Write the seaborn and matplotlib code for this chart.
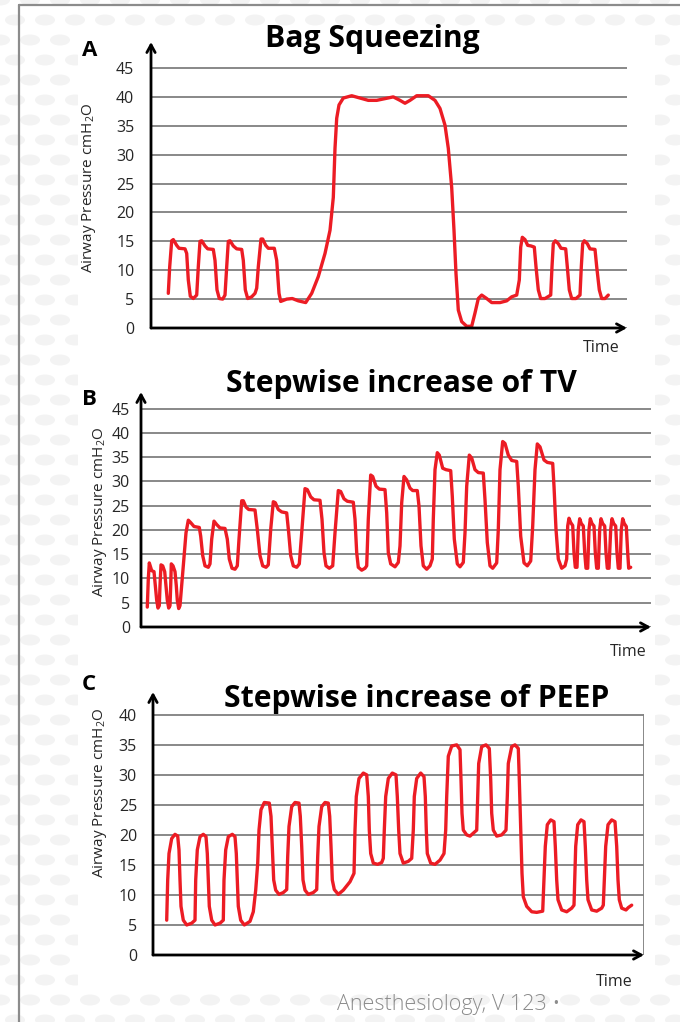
import numpy as np
import pandas as pd
import seaborn as sns
import matplotlib.pyplot as plt
from matplotlib.collections import EllipseCollection
from matplotlib.patches import Rectangle

# Panel A - bag squeezing (time in arbitrary units, airway pressure in cmH2O)
bag_time = [17.3, 18.7, 20.7, 22.3, 25.7, 28.0, 34.0, 35.7, 37.3, 39.3, 42.3, 45.7,
            47.3, 49.0, 50.7, 54.0, 56.7, 62.3, 64.0, 66.0, 68.3, 71.7, 74.0,
            75.7, 77.3, 79.0, 82.3, 85.7, 90.7, 92.3, 94.3, 96.7, 100.7, 104.0, 105.7,
            107.3, 110.0, 111.7, 114.7, 117.3, 123.3, 125.7, 128.0, 129.7, 135.7,
            141.3, 147.3, 154.7, 160.7, 167.3, 174.0, 179.0, 182.3, 184.0, 185.7,
            188.0, 192.3, 200.7, 209.0, 217.3, 225.7, 234.0, 242.3, 249.0, 254.0,
            259.0, 265.7, 277.3, 284.0, 289.0, 294.0, 297.3, 300.7, 303.0, 305.0,
            307.3, 310.7, 315.7, 320.7, 324.0, 327.3, 330.7, 335.7, 340.7, 349.0,
            355.7, 360.7, 365.7, 368.3, 369.7, 371.3, 374.0, 376.7, 380.0, 383.3,
            385.0, 387.3, 389.7, 394.0, 399.7, 401.0, 402.3, 404.3, 407.3, 410.0,
            414.7, 416.3, 418.3, 420.7, 425.0, 429.0, 430.3, 431.7, 433.3, 436.3,
            439.0, 444.0, 445.7, 448.3, 450.7, 454.0, 457.3]
bag_pressure = [6.0, 10.6, 15.1, 15.3, 14.3, 13.8, 13.7, 12.9, 8.3, 5.5, 5.1, 5.7,
                10.6, 15.0, 15.1, 14.2, 13.7, 13.6, 11.7, 6.6, 5.1, 5.0, 5.7,
                10.6, 15.0, 15.1, 14.2, 13.7, 13.6, 11.7, 6.6, 5.1, 5.4, 6.0, 6.9,
                10.6, 15.4, 15.4, 14.3, 13.8, 13.8, 11.7, 6.0, 4.6, 5.0,
                5.1, 4.7, 4.4, 6.0, 8.9, 12.9, 16.9, 22.6, 31.1, 36.3,
                38.6, 39.8, 40.2, 39.8, 39.4, 39.4, 39.7, 40.0, 39.4, 38.9,
                39.4, 40.2, 40.2, 39.4, 38.0, 35.1, 31.1, 24.3, 16.9, 9.4,
                3.1, 1.1, 0.3, 0.3, 2.6, 5.1, 5.7, 5.1, 4.4, 4.4,
                4.7, 5.4, 5.7, 8.3, 14.0, 15.7, 15.3, 14.3, 14.2, 14.0,
                10.6, 6.6, 5.1, 5.1, 5.7, 10.6, 14.6, 15.1, 14.6, 13.8,
                13.7, 10.6, 6.6, 5.1, 5.1, 5.7, 10.6, 14.6, 15.1, 14.6,
                13.7, 13.6, 10.6, 6.6, 5.1, 5.1, 5.7]

# Panel B - stepwise increase of tidal volume
tv_time = [6.3, 7.3, 8.3, 10.7, 13.0, 14.3, 15.7, 17.0, 18.3, 19.0, 20.0, 21.7, 23.7,
           25.0, 26.3, 27.7, 29.0, 29.7, 30.3, 32.0, 34.0, 35.3, 36.3, 37.7, 39.0,
           40.7, 42.3, 45.0, 47.3, 49.7, 53.0, 58.3, 59.7, 61.7, 64.0, 67.3, 69.0,
           70.7, 73.0, 75.7, 79.0, 84.0, 86.3, 88.3, 91.0, 94.0, 96.3, 98.0, 100.7,
           102.3, 105.0, 107.7, 114.0, 116.3, 119.0, 121.7, 125.0, 127.3, 129.7,
           132.3, 134.3, 137.3, 140.7, 145.7, 147.7, 149.7, 152.3, 155.7, 158.3,
           160.7, 164.0, 166.3, 169.7, 173.0, 179.0, 181.0, 183.0, 185.0, 188.3,
           191.7, 194.0, 197.3, 199.7, 203.0, 206.3, 212.3, 214.0, 215.7, 217.3,
           220.7, 224.0, 225.7, 227.3, 229.7, 231.7, 235.0, 238.3, 244.0, 245.7,
           247.3, 249.7, 254.0, 257.3, 259.0, 260.7, 263.0, 265.7, 269.0, 271.7,
           276.3, 278.0, 280.0, 282.3, 285.7, 289.0, 291.3, 292.3, 294.0, 296.3,
           298.3, 301.7, 305.0, 309.7, 311.3, 313.3, 316.3, 319.0, 322.3, 324.0,
           325.7, 328.3, 330.7, 334.0, 337.3, 342.3, 344.0, 346.3, 349.0, 351.7,
           355.7, 357.3, 359.0, 361.7, 364.0, 367.3, 370.7, 375.7, 377.3, 379.7,
           383.0, 386.3, 389.7, 391.7, 394.0, 396.3, 399.0, 403.0, 406.3, 411.7,
           413.0, 415.0, 417.3, 420.7, 424.0, 425.7,
           426.7, 428.0, 429.7, 431.7, 433.0, 434.3, 436.0,
           437.3, 438.7, 440.3, 442.3, 443.7, 445.0, 446.7,
           448.0, 449.3, 451.0, 453.0, 454.3, 455.7, 457.3,
           458.7, 460.0, 461.7, 463.7, 465.0, 466.3, 468.0,
           469.7, 471.0, 472.7, 474.7, 476.0, 477.3, 479.0,
           480.3, 481.7, 483.3, 485.3, 486.7, 487.7, 489.7]
tv_pressure = [4.1, 9.9, 13.2, 11.6, 11.4, 8.5, 5.5, 3.9, 4.4, 8.5, 12.8, 12.6, 11.4,
               8.5, 5.5, 3.9, 4.4, 8.5, 13.0, 12.6, 11.4, 8.5, 5.5, 3.8, 4.4,
               8.5, 12.6, 19.4, 22.0, 21.5, 20.7, 20.5, 18.7, 14.7, 12.6, 12.3, 13.0,
               18.1, 21.8, 21.1, 20.4, 20.3, 18.1, 14.0, 12.1, 11.9, 12.6, 18.1, 26.0,
               26.0, 24.7, 24.2, 24.1, 20.1, 14.7, 12.6, 12.3, 12.8, 20.1,
               25.8, 25.6, 24.2, 23.7, 23.5, 19.4, 14.7, 12.6, 12.3, 13.0,
               19.4, 28.5, 28.3, 26.8, 26.2, 26.1, 22.2, 15.3, 12.6, 12.1,
               12.6, 19.4, 28.1, 27.9, 26.4, 25.9, 25.7, 22.2, 15.3, 12.3,
               11.7, 12.1, 12.6, 22.2, 31.3, 31.0, 29.0, 28.4, 28.3, 23.5,
               15.3, 13.0, 12.4, 13.3, 16.7, 25.6, 31.0, 30.3, 28.6, 28.1,
               28.1, 24.9, 16.7, 12.6, 11.9, 12.6, 14.0, 22.2, 32.4, 35.9,
               35.4, 32.7, 32.4, 32.2, 26.9, 18.1, 13.0, 12.4, 13.3, 19.4,
               29.0, 35.4, 34.8, 32.4, 31.8, 31.7, 26.2, 17.4, 12.6, 12.1,
               13.2, 20.1, 32.4, 38.2, 37.8, 35.4, 34.3, 34.1, 29.0, 18.7,
               13.2, 12.6, 13.6, 20.8, 32.4, 37.7, 37.1, 34.4, 33.9, 33.7,
               29.0, 20.1, 14.0, 12.1, 12.6, 14.0,
               20.8, 22.4, 21.5, 20.9, 15.3, 12.3, 12.3,
               20.1, 22.3, 21.3, 20.8, 15.3, 12.1, 12.1,
               20.1, 22.3, 21.3, 20.8, 15.3, 12.1, 12.1,
               20.1, 22.3, 21.3, 20.8, 15.3, 12.1, 12.1,
               20.1, 22.3, 21.3, 20.8, 15.3, 12.1, 12.1,
               20.1, 22.3, 21.3, 20.7, 15.3, 12.1, 12.3]

# Panel C - stepwise increase of PEEP
peep_time = [13.7, 14.7, 16.0, 18.7, 22.0, 24.7, 26.0, 27.0, 28.0, 30.3, 33.7, 38.7,
             42.0, 42.7, 44.3, 47.0, 50.3, 53.0, 54.3, 55.3, 56.3, 58.7, 62.0, 67.0,
             70.3, 71.0, 72.7, 75.3, 79.3, 82.0, 83.3, 84.3, 85.3, 87.7, 91.3, 97.0,
             100.3, 102.7, 104.7, 106.0, 108.0, 111.3, 116.3, 118.0, 119.3, 120.7,
             122.7, 126.0, 130.3, 133.7, 134.7, 136.0, 138.7, 142.0, 146.0, 147.3,
             148.7, 150.0, 152.0, 155.3, 160.3, 163.7, 164.7, 166.0, 168.7, 172.0,
             175.3, 176.7, 178.0, 179.3, 181.3, 185.3, 190.3, 197.0, 201.0, 202.0,
             203.3, 206.0, 210.3, 213.7, 215.3, 216.3, 217.7, 220.3, 224.7, 228.7,
             230.3, 231.3, 232.7, 235.3, 239.3, 243.0, 244.3, 245.7, 247.0, 250.3,
             255.3, 258.7, 260.3, 261.3, 263.7, 267.7, 271.0, 272.3, 273.3, 274.3,
             277.7, 282.0, 287.0, 291.0, 292.7, 293.7, 295.3, 298.7, 303.7, 307.0,
             308.0, 309.0, 310.3, 313.7, 317.0, 320.3, 323.7, 324.7, 325.7, 328.7,
             333.0, 336.3, 337.7, 338.7, 340.3, 343.7, 348.7, 353.0, 354.3, 355.3,
             358.7, 362.0, 365.3, 366.3, 367.7, 369.0, 370.3, 373.7, 378.7, 383.7,
             389.7, 391.0, 392.3, 394.3, 397.7, 401.0, 402.3, 403.7, 405.0, 408.7,
             413.7, 418.7, 421.0, 421.7, 422.7, 424.7, 428.0, 431.0, 432.3, 433.7,
             435.0, 438.7, 443.7, 448.7, 450.3, 451.3, 452.7, 455.0, 458.7, 462.0,
             463.7, 465.0, 466.3, 468.7, 473.0, 475.3, 478.7]
peep_pressure = [5.8, 12.5, 16.9, 19.4, 20.1, 19.8, 17.5, 12.5, 8.1, 5.8, 5.0, 5.3,
                 5.8, 12.5, 17.5, 19.7, 20.1, 19.7, 16.9, 12.5, 8.1, 5.8, 5.0, 5.3,
                 5.8, 12.5, 17.5, 19.7, 20.1, 19.7, 16.9, 12.5, 8.1, 5.8, 5.0, 5.6,
                 7.2, 10.8, 15.3, 20.8, 24.2, 25.4, 25.3, 23.1, 18.1, 12.5,
                 10.8, 10.1, 10.4, 10.9, 16.4, 21.4, 24.7, 25.4, 25.3, 23.1,
                 18.1, 12.5, 10.8, 10.1, 10.4, 10.9, 16.4, 21.4, 24.7, 25.4,
                 25.3, 23.1, 18.1, 12.5, 10.9, 10.1, 10.8, 12.2, 13.6, 20.8,
                 26.4, 29.4, 30.3, 30.0, 26.4, 20.8, 16.9, 15.3, 15.1, 15.4,
                 16.1, 20.8, 26.4, 29.4, 30.3, 30.0, 26.4, 20.8, 16.9, 15.3,
                 15.6, 16.1, 20.8, 26.4, 29.4, 30.3, 29.7, 26.4, 20.8, 16.9,
                 15.3, 15.1, 15.8, 16.9, 20.8, 26.4, 33.1, 34.8, 35.0, 34.2,
                 29.2, 23.6, 20.8, 20.0, 19.8, 20.3, 20.8, 26.4, 31.9, 34.7,
                 35.0, 34.4, 29.2, 23.6, 20.8, 19.8, 20.0, 20.8, 26.4, 31.9,
                 34.7, 35.0, 34.4, 29.2, 20.8, 13.6, 9.7, 8.1, 7.2, 7.1,
                 7.3, 12.5, 18.1, 21.7, 22.5, 22.2, 18.1, 12.5, 9.2, 7.5,
                 7.2, 7.8, 8.3, 12.5, 18.1, 21.7, 22.5, 22.2, 18.1, 12.5,
                 9.2, 7.5, 7.3, 7.8, 8.3, 12.5, 18.1, 21.7, 22.5, 22.2,
                 18.1, 12.5, 9.2, 7.8, 7.5, 7.9, 8.3]

panel_titles = ["Bag Squeezing", "Stepwise increase of TV", "Stepwise increase of PEEP"]
panel_letters = ["A", "B", "C"]
y_label = "Airway Pressure cmH$_2$O"
x_label = "Time"
source_note = "Anesthesiology, V 123 \u2022"

RED = "#ec1c24"
GRID = "#7f7f7f"
W, H = 680, 1022

sns.set_style("white")
plt.rcParams["font.family"] = ["Open Sans", "DejaVu Sans"]
plt.rcParams["mathtext.default"] = "regular"

fig = plt.figure(figsize=(W / 100, H / 100), dpi=100)


def fx(x):
    return x / W


def fy(y):
    return 1 - y / H


# faint dotted page background with a white card behind the panels
bg = fig.add_axes([0, 0, 1, 1], zorder=-10)
bg.set_xlim(0, W)
bg.set_ylim(H, 0)
bg.axis("off")
gx, gy = np.meshgrid(np.arange(0, W + 40, 30), np.arange(0, H + 20, 20))
gx = gx + (np.arange(gx.shape[0])[:, None] % 2) * 15
offs = np.column_stack([gx.ravel(), gy.ravel()])
bg.add_collection(EllipseCollection(np.full(len(offs), 20), np.full(len(offs), 11),
                                    np.zeros(len(offs)), units="xy", offsets=offs,
                                    offset_transform=bg.transData,
                                    facecolors="#f3f3f3", edgecolors="none"))
bg.add_patch(Rectangle((78, 33), 577, 955, facecolor="white", edgecolor="none"))
bg.plot([19, 19], [5, H], color="#8c8c8c", lw=1.6)
bg.plot([19, W], [5, 5], color="#8c8c8c", lw=1.6)


def make_axes(left, right, bottom, top):
    ax = fig.add_axes([fx(left), fy(bottom), (right - left) / W, (bottom - top) / H])
    ax.set_facecolor("none")
    return ax


def draw_panel(ax, time, pressure, xmax, ymax, ytop_tick, pad):
    df = pd.DataFrame({"time": time, "pressure": pressure})
    sns.lineplot(data=df, x="time", y="pressure", ax=ax, color=RED, linewidth=2.4,
                 sort=False, estimator=None, solid_joinstyle="round",
                 solid_capstyle="round", zorder=3)
    ax.set_xlim(0, xmax)
    ax.set_ylim(0, ymax)
    ax.set_yticks(np.arange(0, ytop_tick + 1, 5))
    ax.set_xticks([])
    ax.set_xlabel("")
    ax.set_ylabel("")
    ax.yaxis.grid(True, color=GRID, linewidth=1.3)
    ax.set_axisbelow(True)
    for s in ax.spines.values():
        s.set_visible(False)
    ax.tick_params(axis="y", length=0, pad=pad, labelsize=11.5, labelcolor="#262626")
    arrow = dict(arrowstyle="->,head_length=0.55,head_width=0.3", color="black",
                 lw=2, shrinkA=0, shrinkB=0)
    ax.annotate("", xy=(0, 1), xytext=(0, 0), xycoords="axes fraction",
                textcoords="axes fraction", arrowprops=arrow, zorder=4)
    ax.annotate("", xy=(1, 0), xytext=(0, 0), xycoords="axes fraction",
                textcoords="axes fraction", arrowprops=arrow, zorder=4)


ax_a = make_axes(151, 627, 328, 42)
draw_panel(ax_a, bag_time, bag_pressure, 476, 49.5, 45, 12)
ax_b = make_axes(141, 651, 627, 392)
draw_panel(ax_b, tv_time, tv_pressure, 510, 48.4, 45, 8)
ax_c = make_axes(153, 644, 955, 692)
draw_panel(ax_c, peep_time, peep_pressure, 491, 43.8, 40, 11.5)
ax_c.axvline(491, ymin=0, ymax=40 / 43.8, color=GRID, lw=1.3)

# titles, panel letters, axis labels
title_pos = [(372, 47), (401, 392), (417, 707)]
letter_pos = [(82, 56), (82, 405), (82, 690)]
ylab_pos = [(89, 188), (100, 512), (100, 793)]
time_pos = [(620, 352), (647, 656), (633, 986)]
for i in range(3):
    fig.text(fx(title_pos[i][0]), fy(title_pos[i][1]), panel_titles[i], ha="center",
             va="baseline", fontsize=21.7, fontweight="bold", color="black")
    fig.text(fx(letter_pos[i][0]), fy(letter_pos[i][1]), panel_letters[i], ha="left",
             va="baseline", fontsize=16, fontweight="bold", color="black")
    fig.text(fx(ylab_pos[i][0]), fy(ylab_pos[i][1]), y_label, ha="center", va="center",
             rotation=90, fontsize=11, color="#262626")
    fig.text(fx(time_pos[i][0]), fy(time_pos[i][1]), x_label, ha="right",
             va="baseline", fontsize=11.5, color="#262626")

fig.text(fx(337), fy(1010), source_note, ha="left", va="baseline", fontsize=15.5,
         color="#8c8c8c", fontweight="light")

fig.savefig("out.png", dpi=100)
